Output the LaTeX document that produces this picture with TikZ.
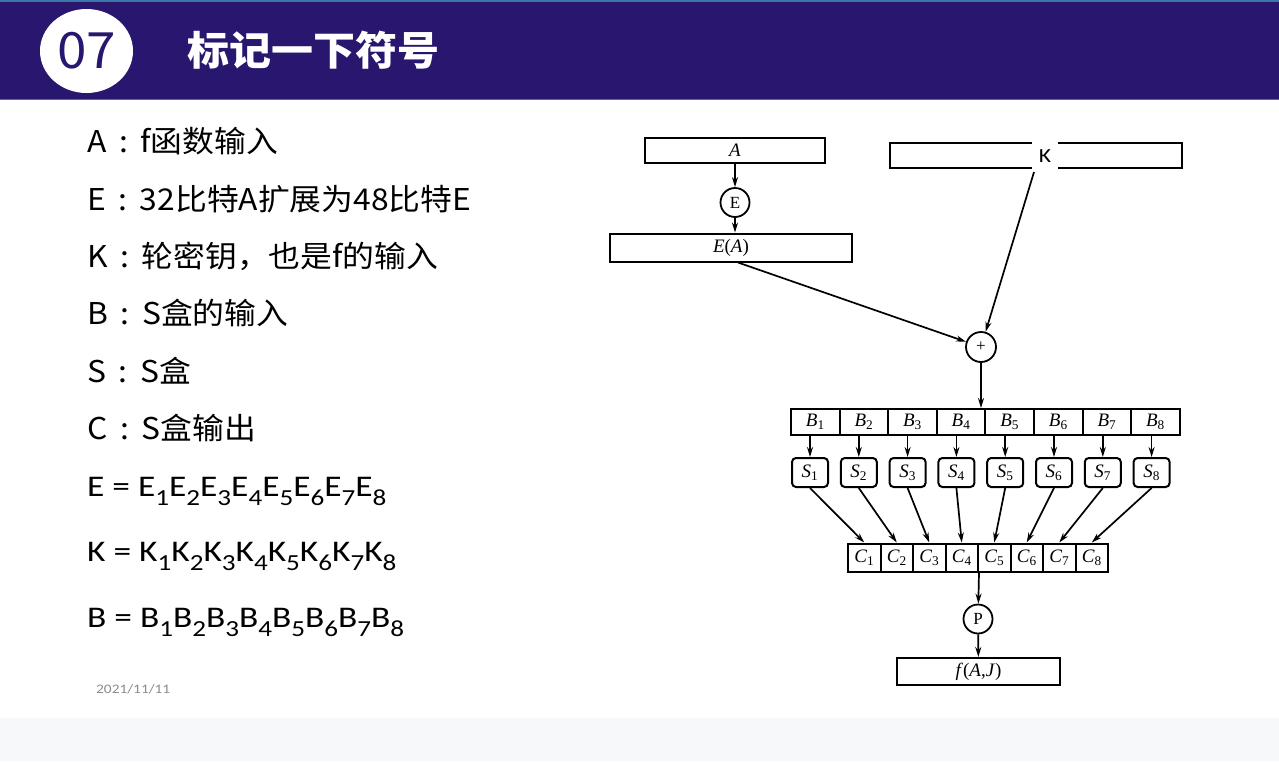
\documentclass[tikz,border=0pt]{standalone}
\usepackage{fontspec}
\setmainfont{Liberation Serif}
\newfontfamily\cjk[FakeStretch=1.06]{Noto Sans CJK SC}
\newfontfamily\cjkwide[FakeStretch=1.05]{Noto Sans CJK SC}
\newfontfamily\calwide[FakeStretch=1.18]{Carlito}
\usetikzlibrary{arrows.meta,shapes.geometric}
\definecolor{barpurple}{HTML}{28166F}
\definecolor{barline}{HTML}{3F74A6}
\definecolor{footgray}{HTML}{F7F8FA}
\definecolor{dategray}{HTML}{8C8C8C}
% lowered index in the formula lines
\newcommand\dn[1]{\raisebox{-9pt}{\fontsize{23}{23}\selectfont #1}}
% italic symbol with a subscript in the diagram
\newcommand\lab[2]{\textit{#1}\textsubscript{#2}}
% centred colon after the symbol letter
\newcommand\cln{\makebox[34pt][c]{:}}
\begin{document}
\begin{tikzpicture}[x=1pt,y=-1pt,
  frame/.style={draw, line width=2pt, inner sep=0pt, font=\fontsize{19}{19}\selectfont},
  sbox/.style={frame, rounded corners=4pt, minimum width=36pt, minimum height=29pt},
  op/.style={draw, circle, line width=1.8pt, inner sep=0pt, minimum size=29pt, font=\fontsize{17}{17}\selectfont},
  arr/.style={line width=1.7pt, -{Stealth[length=10pt,width=6pt]}},
  note/.style={anchor=base west, inner sep=0pt, font=\cjk\fontsize{30}{30}\selectfont},
  formula/.style={anchor=base west, inner sep=0pt, font=\calwide\fontsize{30}{30}\selectfont}]

\useasboundingbox (0,0) rectangle (1279,761);
% page, footer strip and title bar
\fill[white] (0,0) rectangle (1279,718);
\fill[footgray] (0,718) rectangle (1279,761);
\fill[barpurple] (0,0) rectangle (1279,100);
\draw[barline, line width=1.5pt] (0,0.75) -- (1279,0.75);
\draw[barline, line width=1.5pt] (0,99.25) -- (1279,99.25);

\node[ellipse, fill=white, minimum width=93pt, minimum height=84pt, inner sep=0pt,
      text=barpurple, font=\cjk\fontsize{50}{50}\selectfont] (badge) at (86.5,51) {07};
\node[anchor=west, inner sep=0pt, text=white,
      font=\cjkwide\bfseries\fontsize{40}{40}\selectfont] (title) at (187,50) {标记一下符号};

% notation list
\node[note] (tA) at (87,152) {A\cln f函数输入};
\node[note] (tE) at (87,210) {E\cln 32比特A扩展为48比特E};
\node[note] (tK) at (87,267) {K\cln 轮密钥，也是f的输入};
\node[note] (tB) at (87,324) {B\cln S盒的输入};
\node[note] (tS) at (87,382) {S\cln S盒};
\node[note] (tC) at (87,439) {C\cln S盒输出};
\node[formula] (fE) at (87,496) {E = E\dn{1}E\dn{2}E\dn{3}E\dn{4}E\dn{5}E\dn{6}E\dn{7}E\dn{8}};
\node[formula] (fK) at (87,561.5) {K = K\dn{1}K\dn{2}K\dn{3}K\dn{4}K\dn{5}K\dn{6}K\dn{7}K\dn{8}};
\node[formula] (fB) at (87,627) {B = B\dn{1}B\dn{2}B\dn{3}B\dn{4}B\dn{5}B\dn{6}B\dn{7}B\dn{8}};
\node[anchor=base west, inner sep=0pt, text=dategray, font=\calwide\fontsize{13}{13}\selectfont]
      (date) at (96,693) {2021/11/11};

% f function diagram
\node[frame, minimum width=180pt, minimum height=25pt] (A) at (735,150.5) {\textit{A}};
\node[op] (E) at (735,202.5) {E};
\node[frame, minimum width=242pt, minimum height=28pt] (EA) at (731,247.5) {\textit{E}(\textit{A})};
\node[frame, minimum width=292pt, minimum height=25pt] (K) at (1036,155) {};
\node[fill=white, inner xsep=7pt, inner ysep=0pt, minimum height=30pt,
      font=\calwide\fontsize{20}{20}\selectfont] (Klabel) at (1045,156) {K};
\coordinate (kfoot) at (1034,172);
\node[op, minimum size=30pt] (plus) at (981,347) {+};

\draw[arr] (A) -- (E);
\draw[arr] (E) -- (E |- EA.north);
\draw[arr] ([xshift=7pt]EA.south) -- (plus);
\draw[arr] (kfoot) -- (plus);

\foreach \i in {1,...,8} {
  \node[frame, minimum width=48.6pt, minimum height=26pt] (B\i) at ({791+48.6*(\i-0.5)},422) {\lab{B}{\i}};
  \node[sbox] (S\i) at ({810+48.8*(\i-1)},472.5) {\lab{S}{\i}};
  \node[frame, minimum width=32.5pt, minimum height=28pt] (C\i) at ({848+32.5*(\i-0.5)},557.5) {\lab{C}{\i}};
}
\draw[arr] (plus) -- (plus |- B4.north);
\foreach \i in {1,...,8} {
  \draw[arr] (S\i |- B\i.south) -- (S\i);
  \draw[arr] (S\i.south) -- (C\i.north);
}

\node[op] (P) at (978,619) {P};
\node[frame, minimum width=163pt, minimum height=27pt] (F) at (978.5,671.5) {\textit{f}(\textit{A},\textit{J})};
\draw[arr] (C4.south east) -- (P);
\draw[arr] (P) -- (F);
\end{tikzpicture}
\end{document}
